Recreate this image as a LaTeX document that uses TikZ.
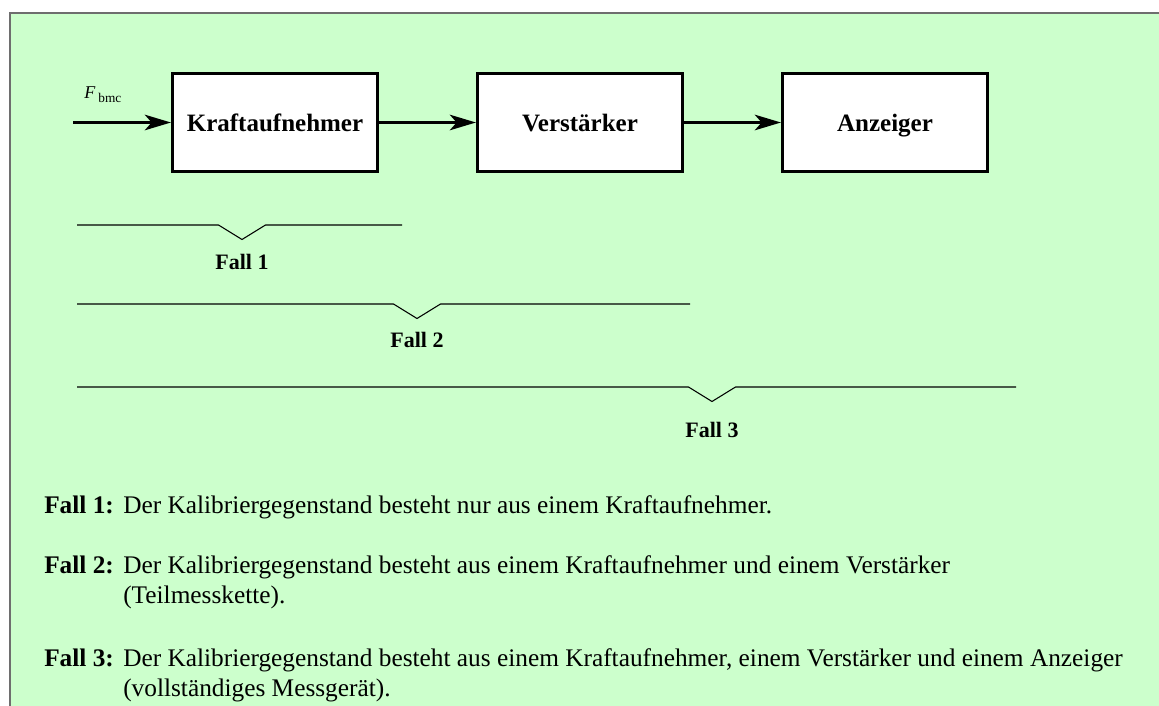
\documentclass[tikz,border=0pt]{standalone}
\usepackage{fontspec}
\setmainfont{Liberation Serif}
\usepackage{xcolor}
\usetikzlibrary{positioning,arrows.meta}
\definecolor{paneel}{HTML}{CCFFCC}
\definecolor{rahmen}{HTML}{6E6E6E}
\tikzset{
  % --- measuring chain ------------------------------------------------------
  block/.style={rectangle,draw=black,fill=white,line width=2.5pt,
                minimum width=153.5pt,minimum height=73.25pt,inner sep=0pt,
                text height=18pt,text depth=4pt,
                font=\fontsize{18.75}{22}\selectfont\bfseries},
  sig/.style={-{Stealth[length=19.5pt,width=11.5pt,inset=5pt]},line width=2.8pt},
  % --- case brackets --------------------------------------------------------
  bracket/.style={black,line width=0.8pt},
  caselab/.style={font=\fontsize{16.5}{19}\selectfont\bfseries,inner sep=0pt},
  % --- explanation lines ----------------------------------------------------
  body/.style={anchor=base west,inner sep=0pt,
               font=\fontsize{19}{22.5}\selectfont},
}

\begin{document}
\begin{tikzpicture}[x=0.75pt, y=-0.75pt]
  \useasboundingbox (0,0) rectangle (1159,706);
  \clip (0,0) rectangle (1159,706);
  \fill[paneel] (10,13) rectangle (1170,720);
  \draw[rahmen,line width=1.5pt] (1170,13) -- (10,13) -- (10,720);

  % chain
  \node[block] (kraft) at (275,122.5) {Kraftaufnehmer};
  \node[block,right=72.75pt of kraft] (verst) {Verstärker};
  \node[block,right=72.75pt of verst] (anz) {Anzeiger};
  \coordinate (fin) at (73,122.5);
  \node[anchor=base west,inner sep=0pt] (flab) at (84,99)
       {\fontsize{13.5}{15}\selectfont\textit{F}\,\raisebox{-3pt}{\fontsize{10}{11}\selectfont bmc}};

  \draw[sig] (fin) -- (kraft);
  \draw[sig] (kraft) -- (verst);
  \draw[sig] (verst) -- (anz);

  % brackets: number / height / right end / notch / label height
  \foreach \n/\yy/\xe/\xm/\ly in {1/225/402/242/262, 2/304/690/417/340, 3/387/1016/712/430}{
    \draw[bracket] (77,\yy) -- (\xm-23.5,\yy) -- (\xm,\yy+14.5)
                   -- (\xm+23.5,\yy) -- (\xe,\yy);
    \node[caselab] (fall\n) at (\xm,\ly) {Fall \n};
  }

  % explanation
  \node[body] (lab1) at (44,513) {\textbf{Fall 1:}};
  \node[body] (txt1) at (123,513) {Der Kalibriergegenstand besteht nur aus einem Kraftaufnehmer.};
  \node[body] (lab2) at (44,573) {\textbf{Fall 2:}};
  \node[body] (txt2) at (123,573) {Der Kalibriergegenstand besteht aus einem Kraftaufnehmer und einem Verstärker};
  \node[body] (txt2b) at (123,603) {(Teilmesskette).};
  \node[body] (lab3) at (44,666) {\textbf{Fall 3:}};
  \node[body] (txt3) at (123,666) {Der Kalibriergegenstand besteht aus einem Kraftaufnehmer, einem Verstärker und einem Anzeiger};
  \node[body] (txt3b) at (123,696) {(vollständiges Messgerät).};
\end{tikzpicture}
\end{document}
